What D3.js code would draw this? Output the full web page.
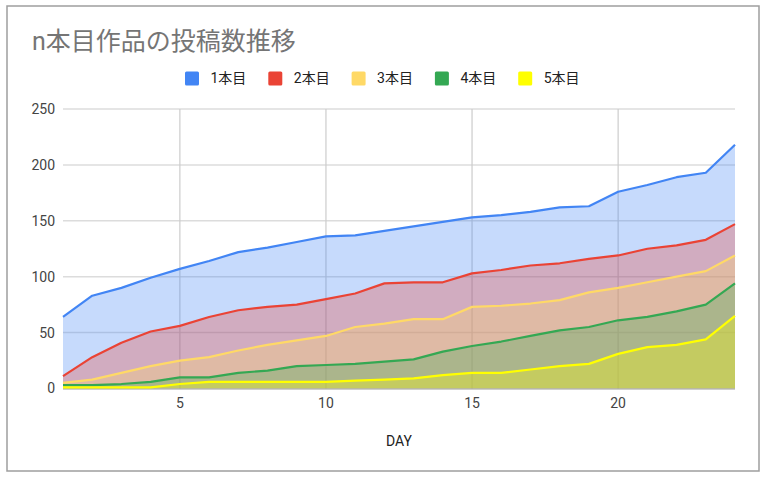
<!DOCTYPE html>
<html><head><meta charset="utf-8">
<script src="https://cdn.jsdelivr.net/npm/d3@7"></script>
<style>
html,body{margin:0;padding:0;background:#fff;}
svg{display:block;}
text{font-family:Roboto,"Noto Sans CJK JP",sans-serif;}
</style></head>
<body><svg id="c" width="769" height="482"></svg>
<script>
const title = "n本目作品の投稿数推移";
const xTitle = "DAY";
const days = [1,2,3,4,5,6,7,8,9,10,11,12,13,14,15,16,17,18,19,20,21,22,23,24];
const seriesNames = ["1本目","2本目","3本目","4本目","5本目"];
const seriesColors = ["#4285f4","#ea4335","#ffd966","#34a853","#ffff00"];
const s1 = [64,83,90,99,107,114,122,126,131,136,137,141,145,149,153,155,158,162,163,176,182,189,193,218];
const s2 = [11,28,41,51,56,64,70,73,75,80,85,94,95,95,103,106,110,112,116,119,125,128,133,147];
const s3 = [5,8,14,20,25,28,34,39,43,47,55,58,62,62,73,74,76,79,86,90,95,100,105,119];
const s4 = [3,3,4,6,10,10,14,16,20,21,22,24,26,33,38,42,47,52,55,61,64,69,75,94];
const s5 = [1,1,1,1,4,6,6,6,6,6,7,8,9,12,14,14,17,20,22,31,37,39,44,65];
const yTicks = [0,50,100,150,200,250];
const xTicks = [5,10,15,20];

const series = [s1,s2,s3,s4,s5];
const svg = d3.select("#c");

// border
svg.append("rect").attr("x",7).attr("y",6).attr("width",752).attr("height",465)
  .attr("fill","#fff").attr("stroke","#9e9e9e").attr("stroke-width",1.5);

const x = d3.scaleLinear().domain([1,24]).range([63,735]);
const y = d3.scaleLinear().domain([0,250]).range([388.5,109]);

// title
svg.append("text").attr("x",32).attr("y",50).attr("font-size",25).attr("fill","#757575")
  .text(title);

// legend
const lg = svg.append("g");
seriesNames.forEach((n,i)=>{
  const gx = 185 + i*83.3;
  lg.append("rect").attr("x",gx).attr("y",71.5).attr("width",14).attr("height",14).attr("rx",1.5)
    .attr("fill",seriesColors[i]);
  lg.append("text").attr("x",gx+25.5).attr("y",78.5).attr("dy","0.35em")
    .attr("font-size",14).attr("fill","#222").text(n);
});

// gridlines
svg.append("g").selectAll("line").data(yTicks.filter(t=>t>0)).join("line")
  .attr("x1",63).attr("x2",735).attr("y1",d=>y(d)).attr("y2",d=>y(d))
  .attr("stroke","#dcdcdc").attr("stroke-width",1.5);
svg.append("g").selectAll("line").data(xTicks).join("line")
  .attr("x1",d=>x(d)).attr("x2",d=>x(d)).attr("y1",y(250)).attr("y2",y(0))
  .attr("stroke","#cccccc").attr("stroke-width",1.2);

// areas
const area = d3.area().x((d,i)=>x(days[i])).y0(y(0)).y1(d=>y(d));
const line = d3.line().x((d,i)=>x(days[i])).y(d=>y(d));
series.forEach((s,i)=>{
  svg.append("path").attr("d",area(s)).attr("fill",seriesColors[i]).attr("fill-opacity",0.3);
});
// baseline
svg.append("line").attr("x1",63).attr("x2",735).attr("y1",y(0)+0.5).attr("y2",y(0)+0.5)
  .attr("stroke","#9e9e9e").attr("stroke-width",1.2);
series.forEach((s,i)=>{
  svg.append("path").attr("d",line(s)).attr("fill","none").attr("stroke",seriesColors[i])
    .attr("stroke-width",2.2).attr("stroke-linejoin","round");
});

// y axis labels
svg.append("g").selectAll("text").data(yTicks).join("text")
  .attr("x",55).attr("y",d=>y(d)).attr("dy","0.35em").attr("text-anchor","end")
  .attr("font-size",14).attr("fill","#444").text(d=>d);
// x axis labels
svg.append("g").selectAll("text").data(xTicks).join("text")
  .attr("x",d=>x(d)).attr("y",408).attr("text-anchor","middle")
  .attr("font-size",14).attr("fill","#444").text(d=>d);
svg.append("text").attr("x",399).attr("y",446).attr("text-anchor","middle")
  .attr("font-size",14).attr("fill","#222").text(xTitle);
</script></body></html>
